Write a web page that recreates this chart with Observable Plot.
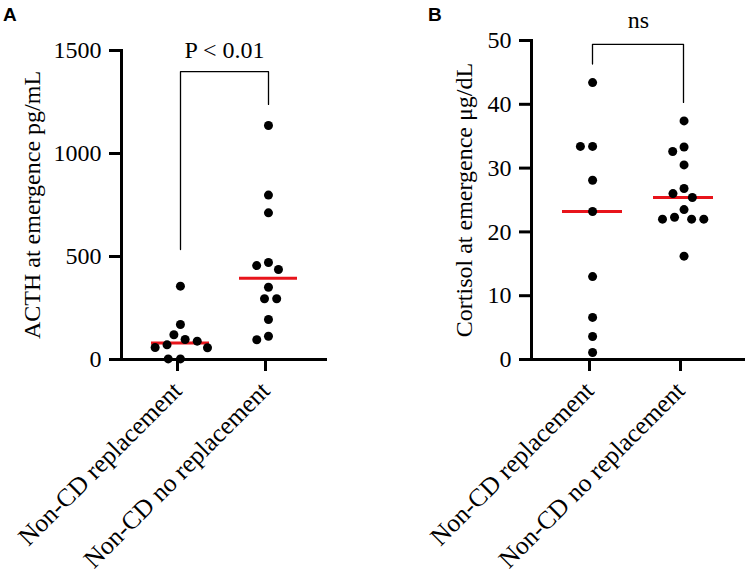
<!DOCTYPE html>
<html>
<head>
<meta charset="utf-8">
<script src="https://cdn.jsdelivr.net/npm/d3@7"></script>
<script src="https://cdn.jsdelivr.net/npm/@observablehq/plot@0.6"></script>
<style>
  html, body { margin: 0; padding: 0; background: #fff; }
  #wrap { position: relative; width: 748px; height: 582px; overflow: hidden; background: #fff; }
  .panel { position: absolute; top: 0; }
  .panel svg { overflow: visible; }
  .tag { position: absolute; top: 5px; font: bold 19px "Liberation Sans", Arial, sans-serif; line-height: 1; color: #000; }
</style>
</head>
<body>
<div id="wrap">
  <div class="tag" style="left:3px">A</div>
  <div class="tag" style="left:428px">B</div>
  <div class="panel" id="pa" style="left:0px"></div>
  <div class="panel" id="pb" style="left:374px"></div>
</div>
<script>
// ---- data ----
const categories = ["Non-CD replacement", "Non-CD no replacement"];

const acthReplacement   = [356, 170, 120, 97, 89, 71, 58, 57, 3, 3];
const acthNoReplacement = [1136, 798, 712, 471, 456, 437, 351, 295, 295, 194, 113, 96];

const cortisolReplacement   = [43.4, 33.4, 33.4, 28.1, 23.2, 13.0, 6.6, 3.6, 1.1];
const cortisolNoReplacement = [37.4, 33.3, 32.6, 30.5, 26.8, 26.0, 25.4, 23.5, 22.3, 22.0, 22.0, 22.0, 16.2];

const acthTicks = [0, 500, 1000, 1500];
const cortisolTicks = [0, 10, 20, 30, 40, 50];

// bracket: [left end, top, right end] in data units
const acthBracket = [534, 1397, 1238];
const cortisolBracket = [46.3, 49.4, 40.3];
const acthSigLabel = "P < 0.01";
const cortisolSigLabel = "ns";
const acthSigY = 1503;
const cortisolSigY = 53.1;

const acthYLabel = "ACTH at emergence pg/mL";
const cortisolYLabel = "Cortisol at emergence \u03bcg/dL";

const FONT = "'Liberation Serif', 'Times New Roman', serif";
const RED = "#e8141b";

function panel({groups, ticks, yLabel, bracket, sig, sigY, width, height,
                marginLeft, marginRight, marginTop, marginBottom, labelOffset}) {
  const data = groups.flatMap((vs, k) => vs.map(v => ({group: categories[k], value: v})));
  const xOpts = {type: "band", domain: categories, padding: 0.34};
  const xs = Plot.scale({x: {...xOpts, range: [marginLeft, width - marginRight]}});
  const mid = (marginLeft + width - marginRight) / 2;
  const bracketData = [
    {x: categories[0], y: bracket[0]},
    {x: categories[0], y: bracket[1]},
    {x: categories[1], y: bracket[1]},
    {x: categories[1], y: bracket[2]}
  ];
  // Plot.scale().apply on a band scale already returns the band centre
  const dots = categories.map(c => Plot.dot(
    data.filter(d => d.group === c),
    Plot.dodgeX({anchor: "middle", padding: 3.2},
      {y: "value", r: 4.5, fill: "#000", dx: xs.apply(c) - mid})
  ));
  return Plot.plot({
    width, height, marginLeft, marginRight, marginTop, marginBottom,
    style: {fontFamily: FONT, fontSize: "24px", color: "#000", background: "transparent", overflow: "visible"},
    x: xOpts,
    y: {domain: [ticks[0], ticks[ticks.length - 1]]},
    marks: [
      Plot.axisY({ticks, tickFormat: d => String(d), tickSize: 12, tickPadding: 8, strokeWidth: 3, fontSize: 24, label: null}),
      Plot.axisX({tickSize: 12, tickPadding: 15, dx: -3, tickRotate: -45, strokeWidth: 3, fontSize: 25.5, label: null}),
      Plot.frame({anchor: "left", strokeWidth: 3}),
      Plot.ruleY([ticks[0]], {strokeWidth: 3}),
      Plot.text([yLabel], {frameAnchor: "left", textAnchor: "middle", rotate: -90, dx: -labelOffset, fontSize: 24, text: d => d}),
      Plot.line(bracketData, {x: "x", y: "y", stroke: "#000", strokeWidth: 1.3}),
      Plot.text([sig], {y: () => sigY, text: d => d, fontSize: 24}),
      Plot.tickY(data, Plot.groupX({y: "median"}, {x: "group", y: "value", stroke: RED, strokeWidth: 3})),
      ...dots
    ]
  });
}

document.getElementById("pa").appendChild(panel({
  groups: [acthReplacement, acthNoReplacement], ticks: acthTicks, yLabel: acthYLabel,
  bracket: acthBracket, sig: acthSigLabel, sigY: acthSigY,
  width: 374, height: 582, marginLeft: 121, marginRight: 47, marginTop: 50, marginBottom: 223,
  labelOffset: 89
}));
document.getElementById("pb").appendChild(panel({
  groups: [cortisolReplacement, cortisolNoReplacement], ticks: cortisolTicks, yLabel: cortisolYLabel,
  bracket: cortisolBracket, sig: cortisolSigLabel, sigY: cortisolSigY,
  width: 374, height: 582, marginLeft: 157, marginRight: 3, marginTop: 40, marginBottom: 223,
  labelOffset: 67
}));
</script>
</body>
</html>
